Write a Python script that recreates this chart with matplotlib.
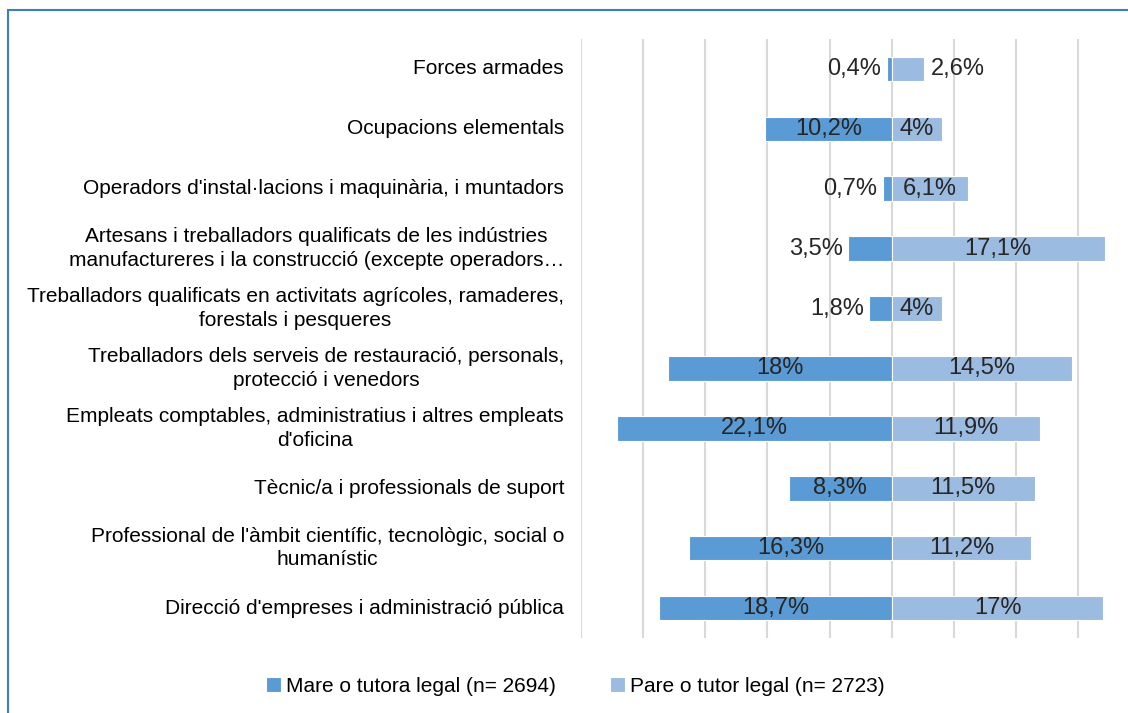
import numpy as np
import matplotlib
matplotlib.use('Agg')
from matplotlib import pyplot as plt
from matplotlib.patches import Rectangle

plt.rcParams['font.family'] = ['Liberation Sans', 'DejaVu Sans']

categories = ['Forces armades',
              'Ocupacions elementals',
              "Operadors d'instal·lacions i maquinària, i muntadors",
              'Artesans i treballadors qualificats de les indústries\nmanufactureres i la construcció (excepte operadors…',
              'Treballadors qualificats en activitats agrícoles, ramaderes,\nforestals i pesqueres',
              'Treballadors dels serveis de restauració, personals,\nprotecció i venedors',
              'Empleats comptables, administratius i altres empleats\nd\'oficina',
              'Tècnic/a i professionals de suport',
              "Professional de l'àmbit científic, tecnològic, social o\nhumanístic",
              "Direcció d'empreses i administració pública"]
mare = [0.4, 10.2, 0.7, 3.5, 1.8, 18, 22.1, 8.3, 16.3, 18.7]
pare = [2.6, 4, 6.1, 17.1, 4, 14.5, 11.9, 11.5, 11.2, 17]
legend_labels = ['Mare o tutora legal (n= 2694)', 'Pare o tutor legal (n= 2723)']

c_mare = '#5B9BD5'
c_pare = '#9BBBE1'
txt = '#262626'


def fmt(v):
    s = ('%.1f' % v).rstrip('0').rstrip('.')
    return s.replace('.', ',') + '%'


fig = plt.figure(figsize=(11.28, 7.13), dpi=100)
ax = fig.add_axes([580.7 / 1128, 1 - 638 / 713, 560 / 1128, 599 / 713])

y = np.arange(len(categories))
ax.barh(y, -np.array(mare), height=0.41, color=c_mare, edgecolor='white', linewidth=0.8,
        label=legend_labels[0], zorder=3)
ax.barh(y, pare, height=0.41, color=c_pare, edgecolor='white', linewidth=0.8,
        label=legend_labels[1], zorder=3)

for i in range(len(categories)):
    m = mare[i]
    if m >= 4:
        ax.text(-m / 2, i, fmt(m), ha='center', va='center', fontsize=17, color=txt, zorder=4)
    else:
        ax.annotate(fmt(m), (-m, i), xytext=(-4, 0), textcoords='offset points',
                    ha='right', va='center', fontsize=17, color=txt)
    p = pare[i]
    if p >= 4:
        ax.text(p / 2, i, fmt(p), ha='center', va='center', fontsize=17, color=txt, zorder=4)
    else:
        ax.annotate(fmt(p), (p, i), xytext=(5, 0), textcoords='offset points',
                    ha='left', va='center', fontsize=17, color=txt)

ax.set_xlim(-25, 20)
ax.set_ylim(len(categories) - 0.5, -0.5)
ax.set_xticks(np.arange(-25, 21, 5))
ax.set_xticklabels([])
ax.tick_params(axis='x', length=0)
ax.grid(axis='x', color='#D9D9D9', linewidth=1.5, zorder=0)
ax.set_axisbelow(True)
ax.set_yticks(y)
ax.set_yticklabels(categories, fontsize=15, color='black', multialignment='center',
                   va='center', linespacing=1.3)
ax.tick_params(axis='y', length=0, pad=12)
for s in ax.spines.values():
    s.set_visible(False)

fig.legend(loc='center', bbox_to_anchor=(0.51, 1 - 686 / 713), ncol=2, frameon=False,
           fontsize=15, handlelength=0.7, handleheight=0.7, handletextpad=0.25,
           columnspacing=2.6)

fig.patches.append(Rectangle((7.5 / 1128, -0.1), 1.2, 1.1 - 10.5 / 713,
                             transform=fig.transFigure, fill=False,
                             edgecolor='#3E7CC4', linewidth=1.5))

fig.savefig('out.png', dpi=100)
